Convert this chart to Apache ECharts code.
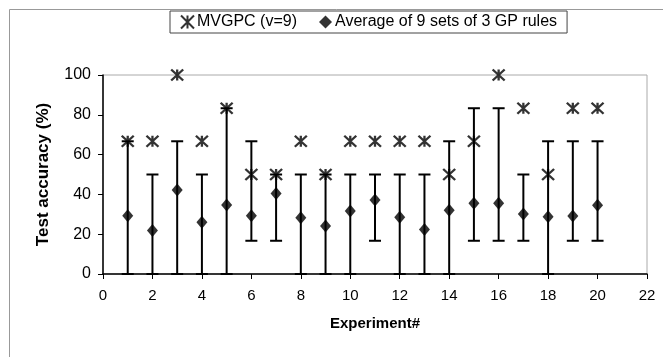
<!DOCTYPE html>
<html>
<head>
<meta charset="utf-8">
<script src="https://cdn.jsdelivr.net/npm/echarts@6/dist/echarts.min.js"></script>
<style>
html,body{margin:0;padding:0;background:#fff;}
#main{width:663px;height:357px;}
</style>
</head>
<body>
<div id="main"></div>
<script>
var experiments = [1,2,3,4,5,6,7,8,9,10,11,12,13,14,15,16,17,18,19,20];
var mvgpc = [66.7,66.7,100,66.7,83.3,50,50,66.7,50,66.7,66.7,66.7,66.7,50,66.7,100,83.3,50,83.3,83.3];
var avg = [29.3,21.8,42.2,26,34.7,29.3,40.5,28.3,24.1,31.7,37.2,28.5,22.4,32,35.5,35.5,30.2,28.8,29.1,34.5];
var errLow = [0,0,0,0,0,16.7,16.7,0,0,0,16.7,0,0,0,16.7,16.7,16.7,0,16.7,16.7];
var errHigh = [66.7,50,66.7,50,83.3,66.7,50,50,50,50,50,50,50,66.7,83.3,83.3,50,66.7,66.7,66.7];
var xTicks = [0,2,4,6,8,10,12,14,16,18,20,22];
var yTicks = [0,20,40,60,80,100];

var font = '"Liberation Sans", Arial, sans-serif';
var starPath = 'path://M0,0L10,10M10,0L0,10M5,0L5,10';

var chart = echarts.init(document.getElementById('main'));
var errData = experiments.map(function(x,i){return [x, errLow[i], errHigh[i]];});
var mvData = experiments.map(function(x,i){return [x, mvgpc[i]];});
var avgData = experiments.map(function(x,i){return [x, avg[i]];});

chart.setOption({
  animation:false,
  backgroundColor:'#fff',
  textStyle:{fontFamily:font},
  graphic:[{type:'rect', shape:{x:9.5,y:9.5,width:700,height:400}, style:{fill:'none',stroke:'#999',lineWidth:1}, silent:true, z:-10}],
  legend:{
    left:170, top:11,
    padding:[3,10,3,10],
    itemGap:22, itemWidth:13, itemHeight:13,
    borderColor:'#444', borderWidth:1,
    textStyle:{fontSize:16, color:'#000', fontFamily:font, padding:[0,0,0,-2]},
    data:[
      {name:'MVGPC (v=9)', icon:starPath, itemStyle:{color:'transparent', borderColor:'#000', borderWidth:2}},
      {name:'Average of 9 sets of 3 GP rules', icon:'diamond', itemStyle:{color:'#000'}}
    ]
  },
  grid:{left:103, right:16, top:75, bottom:83, show:true, borderColor:'#aaa', borderWidth:1, backgroundColor:'transparent'},
  xAxis:{
    type:'value', min:xTicks[0], max:xTicks[xTicks.length-1], interval:2,
    name:'Experiment#', nameLocation:'middle', nameGap:42,
    nameTextStyle:{fontSize:15, fontWeight:'bold', color:'#000', fontFamily:font},
    axisLine:{show:true, onZero:false, lineStyle:{color:'#000', width:1.5}},
    axisTick:{show:true, length:5, lineStyle:{color:'#000'}},
    axisLabel:{fontSize:15, color:'#000', margin:14, fontFamily:font},
    splitLine:{show:false}
  },
  yAxis:{
    type:'value', min:yTicks[0], max:yTicks[yTicks.length-1], interval:20,
    name:'Test accuracy (%)', nameLocation:'middle', nameGap:51, nameRotate:90,
    nameTextStyle:{fontSize:17, fontWeight:'bold', color:'#000', fontFamily:font},
    axisLine:{show:true, lineStyle:{color:'#000', width:1.5}},
    axisTick:{show:true, length:5, lineStyle:{color:'#000'}},
    axisLabel:{fontSize:16, color:'#000', margin:12, fontFamily:font},
    splitLine:{show:false}
  },
  series:[
    {
      type:'custom', name:'err', data:errData, z:2,
      renderItem:function(params, api){
        var x = api.value(0);
        var lo = api.coord([x, api.value(1)]);
        var hi = api.coord([x, api.value(2)]);
        var hw = 6;
        var st = {stroke:'#000', lineWidth:2};
        return {type:'group', children:[
          {type:'line', shape:{x1:lo[0],y1:lo[1],x2:hi[0],y2:hi[1]}, style:st},
          {type:'line', shape:{x1:hi[0]-hw,y1:hi[1],x2:hi[0]+hw,y2:hi[1]}, style:st},
          {type:'line', shape:{x1:lo[0]-hw,y1:lo[1],x2:lo[0]+hw,y2:lo[1]}, style:st}
        ]};
      }
    },
    {
      type:'scatter', name:'MVGPC (v=9)', data:mvData, z:3,
      symbol:starPath, symbolSize:[12,11],
      itemStyle:{color:'transparent', borderColor:'#000', borderWidth:2.2}
    },
    {
      type:'scatter', name:'Average of 9 sets of 3 GP rules', data:avgData, z:4,
      symbol:'diamond', symbolSize:[11,13],
      itemStyle:{color:'#000'}
    }
  ]
});
</script>
</body>
</html>
